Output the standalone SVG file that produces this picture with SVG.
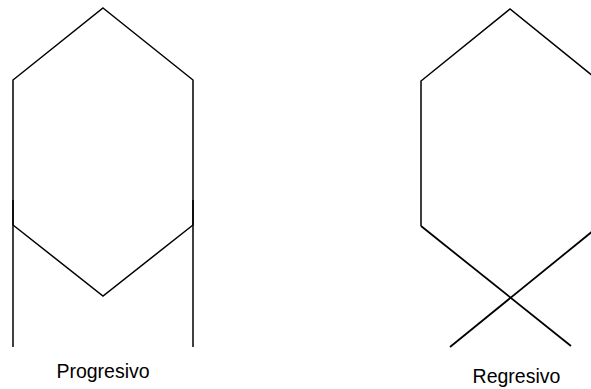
<svg xmlns="http://www.w3.org/2000/svg" width="591" height="389" viewBox="0 0 591 389">
<style>
.s{fill:none;stroke:#000;stroke-width:1.5;stroke-linejoin:miter}
.t{font-family:"Liberation Sans",Arial,sans-serif;font-size:19.5px;fill:#000;text-anchor:middle}
</style>
<rect width="591" height="389" fill="#fff"/>
<g id="progresivo">
<polygon class="s" points="103,8 193,80 193,225 103,296 13,225 13,80"/>
<line class="s" x1="13" y1="200" x2="13" y2="347"/>
<line class="s" x1="193" y1="200" x2="193" y2="347"/>
<text class="t" x="103" y="378">Progresivo</text>
</g>
<g id="regresivo">
<polyline class="s" points="421,226 421,81 510,9 599,81 599,226"/>
<line class="s" style="stroke-width:1.8" x1="421" y1="226" x2="571" y2="346"/>
<line class="s" style="stroke-width:1.8" x1="599" y1="226" x2="450" y2="347"/>
<text class="t" x="516.5" y="383">Regresivo</text>
</g>
</svg>
